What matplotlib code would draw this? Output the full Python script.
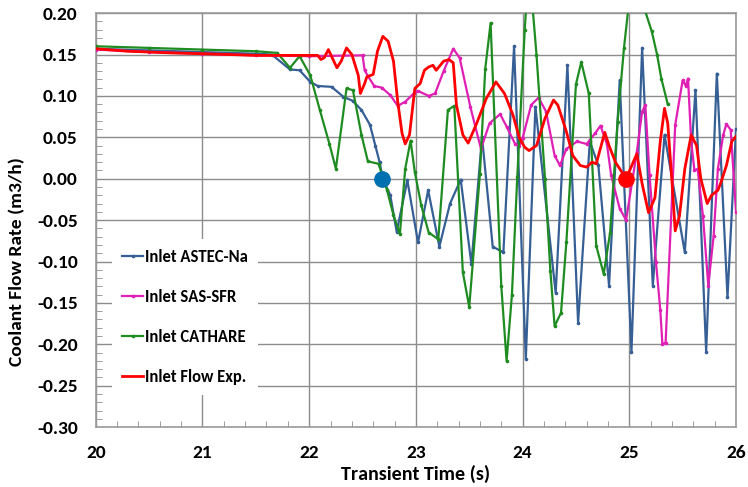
import matplotlib
matplotlib.use("Agg")
import matplotlib.pyplot as plt
from matplotlib.ticker import MultipleLocator

plt.rcParams['font.family'] = ['Carlito', 'Liberation Sans Narrow', 'DejaVu Sans']

# ASTEC-Na inlet
astec_t = [20.0, 20.5, 21.0, 21.5, 21.65, 21.82, 21.91, 22.01, 22.08, 22.21, 22.32, 22.41, 22.49,
           22.57, 22.62, 22.66, 22.69, 22.76, 22.82, 22.92, 23.02, 23.115, 23.22, 23.32, 23.42,
           23.52, 23.62, 23.72, 23.82, 23.92, 24.03, 24.12, 24.31, 24.42, 24.52, 24.63, 24.71,
           24.81, 24.91, 25.02, 25.12, 25.22, 25.33, 25.52, 25.62, 25.72, 25.82, 25.92, 26.0]
astec_q = [0.157, 0.155, 0.153, 0.151, 0.150, 0.132, 0.131, 0.117, 0.112, 0.111, 0.099, 0.094, 0.083,
           0.065, 0.040, 0.020, 0.000, -0.020, -0.064, -0.002, -0.077, -0.014, -0.082, -0.030, -0.001,
           -0.103, 0.050, -0.082, -0.089, 0.160, -0.218, 0.087, -0.138, 0.137, -0.174, 0.045, 0.016,
           -0.129, 0.119, -0.209, 0.158, -0.129, 0.053, -0.089, 0.107, -0.209, 0.127, -0.143, 0.060]

# SAS-SFR inlet
sas_t = [20.0, 20.5, 21.0, 21.5, 22.0, 22.50, 22.52, 22.55, 22.61, 22.68, 22.76, 22.83, 22.90, 22.98,
         23.02, 23.12, 23.18, 23.26, 23.35, 23.41, 23.51, 23.61, 23.69, 23.79, 23.85, 23.93, 23.97,
         24.00, 24.08, 24.15, 24.22, 24.30, 24.35, 24.41, 24.51, 24.60, 24.68, 24.73, 24.79, 24.83,
         24.91, 24.97, 25.07, 25.12, 25.15, 25.19, 25.25, 25.29, 25.31, 25.34, 25.43, 25.50, 25.53,
         25.55, 25.58, 25.61, 25.64, 25.69, 25.74, 25.79, 25.83, 25.88, 25.91, 25.95, 26.0]
sas_q = [0.156, 0.153, 0.151, 0.149, 0.148, 0.149, 0.131, 0.124, 0.112, 0.110, 0.101, 0.088, 0.093, 0.103,
         0.106, 0.100, 0.103, 0.130, 0.157, 0.146, 0.087, 0.036, 0.067, 0.078, 0.063, 0.042, 0.040,
         0.049, 0.089, 0.098, 0.081, 0.028, 0.016, 0.036, 0.045, 0.042, 0.055, 0.064, 0.042, 0.004,
         -0.036, -0.050, 0.032, 0.081, 0.089, 0.004, -0.101, -0.158, -0.200, -0.198, 0.065, 0.119, 0.112,
         0.121, 0.045, 0.010, 0.012, -0.045, -0.129, -0.069, 0.012, 0.053, 0.066, 0.059, -0.040]

# CATHARE inlet
cath_t = [20.0, 20.5, 21.0, 21.5, 21.7, 21.82, 21.91, 22.01, 22.10, 22.19, 22.25, 22.35, 22.41, 22.49,
          22.55, 22.65, 22.73, 22.79, 22.85, 22.90, 22.95, 22.99, 23.05, 23.12, 23.21, 23.30, 23.36,
          23.44, 23.50, 23.60, 23.65, 23.70, 23.80, 23.85, 23.90, 23.95, 24.02, 24.06, 24.13, 24.21,
          24.26, 24.30, 24.36, 24.41, 24.50, 24.55, 24.62, 24.69, 24.76, 24.82, 24.89, 24.95, 25.02,
          25.08, 25.15, 25.21, 25.26, 25.30, 25.36]
cath_q = [0.160, 0.158, 0.156, 0.154, 0.152, 0.134, 0.148, 0.125, 0.083, 0.042, 0.012, 0.109, 0.107, 0.053,
          0.021, 0.018, -0.014, -0.044, -0.067, 0.012, 0.046, 0.008, -0.032, -0.065, -0.073, 0.083, 0.088,
          -0.113, -0.155, 0.006, 0.133, 0.188, -0.129, -0.220, -0.140, 0.002, 0.180, 0.260, 0.150, 0.000,
          -0.111, -0.178, -0.162, -0.077, 0.114, 0.141, 0.103, -0.081, -0.115, -0.065, 0.069, 0.158, 0.240,
          0.230, 0.202, 0.178, 0.150, 0.121, 0.090]

# measured inlet flow
exp_t = [20.0, 20.3, 20.7, 21.0, 21.5, 22.08, 22.11, 22.14, 22.18, 22.22, 22.26, 22.30, 22.35, 22.40,
         22.46, 22.48, 22.52, 22.54, 22.60, 22.64, 22.69, 22.74, 22.79, 22.83, 22.87, 22.90, 22.94,
         22.99, 23.04, 23.08, 23.12, 23.16, 23.19, 23.26, 23.31, 23.35, 23.38, 23.44, 23.49, 23.57,
         23.66, 23.75, 23.83, 23.91, 23.97, 24.02, 24.06, 24.13, 24.21, 24.29, 24.33, 24.41, 24.47,
         24.54, 24.60, 24.65, 24.69, 24.77, 24.81, 24.87, 24.91, 24.97, 25.07, 25.12, 25.18, 25.24,
         25.29, 25.33, 25.36, 25.40, 25.43, 25.47, 25.52, 25.58, 25.63, 25.67, 25.73, 25.77, 25.83,
         25.86, 25.91, 25.96, 26.0]
exp_q = [0.157, 0.154, 0.152, 0.151, 0.149, 0.149, 0.144, 0.146, 0.156, 0.145, 0.134, 0.142, 0.158, 0.150,
         0.125, 0.103, 0.115, 0.123, 0.126, 0.154, 0.172, 0.166, 0.142, 0.093, 0.055, 0.042, 0.053,
         0.109, 0.115, 0.131, 0.135, 0.137, 0.131, 0.142, 0.144, 0.140, 0.089, 0.053, 0.043, 0.067,
         0.097, 0.117, 0.103, 0.077, 0.049, 0.038, 0.034, 0.040, 0.073, 0.095, 0.089, 0.057, 0.028,
         0.016, 0.014, 0.020, 0.018, 0.056, 0.040, 0.020, 0.012, 0.000, 0.030, -0.006, -0.041, -0.023,
         0.045, 0.085, 0.067, -0.004, -0.063, -0.045, 0.012, 0.053, 0.040, 0.000, -0.030, -0.020, -0.014,
         -0.004, 0.016, 0.045, 0.051]

# flow reversal points
rev_t = [22.68, 24.97]
rev_q = [0.0, 0.0]

fig = plt.figure(figsize=(7.48, 4.87), dpi=100)
ax = fig.add_axes([0.128, 0.123, 0.856, 0.850])

ax.plot(astec_t, astec_q, color='#365f95', lw=1.6, marker='o', ms=1.6, label='Inlet ASTEC-Na', zorder=3)
ax.plot(sas_t, sas_q, color='#e020b4', lw=1.6, marker='o', ms=1.6, label='Inlet SAS-SFR', zorder=3)
ax.plot(cath_t, cath_q, color='#1f8c22', lw=1.6, marker='o', ms=1.6, label='Inlet CATHARE', zorder=3)
ax.plot(exp_t, exp_q, color='#ff0000', lw=2.0, label='Inlet Flow Exp.', zorder=4,
        solid_joinstyle='round')

ax.plot(rev_t[0], rev_q[0], 'o', color='#0070b0', ms=11, zorder=5)
ax.plot(rev_t[1], rev_q[1], 'o', color='#ff0000', ms=11, zorder=5)

ax.set_xlim(20, 26)
ax.set_ylim(-0.30, 0.20)
ax.xaxis.set_major_locator(MultipleLocator(1))
ax.xaxis.set_minor_locator(MultipleLocator(0.2))
ax.yaxis.set_major_locator(MultipleLocator(0.05))
ax.yaxis.set_minor_locator(MultipleLocator(0.01))
ax.yaxis.set_major_formatter(lambda v, p: '%.2f' % v)

ax.grid(True, which='major', color='#8c8c8c', lw=1)
ax.tick_params(which='major', length=0, labelsize=14, pad=13)
ax.tick_params(which='minor', direction='in', length=4, color='#8c8c8c')
for lab in ax.get_xticklabels() + ax.get_yticklabels():
    lab.set_fontweight('bold')
for s in ax.spines.values():
    s.set_color('#9a9a9a')
    s.set_linewidth(1.2)

ax.set_xlabel('Transient Time (s)', fontsize=14.5, fontweight='bold', labelpad=3)
ax.set_ylabel('Coolant Flow Rate (m3/h)', fontsize=14, fontweight='bold')
ax.yaxis.set_label_coords(-0.11, 0.40)

leg = ax.legend(loc='upper left', bbox_to_anchor=(0.012, 0.475), frameon=True, fancybox=False,
                edgecolor='none', facecolor='white', framealpha=1, labelspacing=1.45,
                handlelength=1.3, handletextpad=0.1, borderpad=0.6,
                prop={'weight': 'bold', 'size': 12})
leg.set_zorder(6)

plt.savefig("out.png", dpi=100)
